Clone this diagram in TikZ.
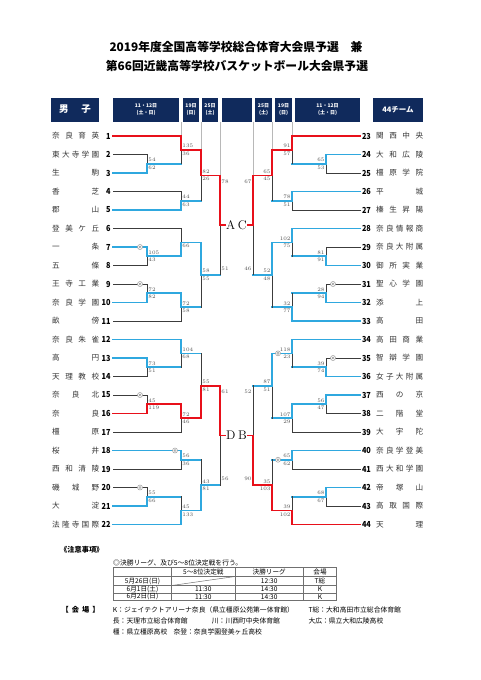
\documentclass[tikz,border=0pt]{standalone}
\usepackage{fontspec}
\newfontfamily\jp{Noto Sans CJK JP}
\usetikzlibrary{calc}
\definecolor{cR}{HTML}{E8101A}
\definecolor{cB}{HTML}{2FA8DF}
\definecolor{cG}{HTML}{3C3C3C}
\definecolor{cNavy}{HTML}{102A5C}
\definecolor{cHL}{HTML}{B8B8B8}
\definecolor{cSc}{HTML}{505050}
\definecolor{cNm}{HTML}{333333}
\definecolor{cMk}{HTML}{9A9A9A}
\definecolor{cTb}{HTML}{707070}
\newcommand\sprd[1]{\makebox[47pt][s]{\sprdA#1\relax}}
\def\sprdA#1{#1\sprdB}
\def\sprdB#1{\ifx\relax#1\else\hfill#1\expandafter\sprdB\fi}
\newcommand\sg[4]{\draw[#3] (#1) -- (#1 -| #2);\draw[#4] (#1 -| #2) -- (#2);}
\newcommand\scoreL[3]{\node[scL] (#1u) at ($(#1)+(1.2,-3.7)$) {#2};\node[scL] (#1l) at ($(#1)+(1.2,3.7)$) {#3};}
\newcommand\scoreR[3]{\node[scR] (#1u) at ($(#1)+(-1.2,-3.7)$) {#2};\node[scR] (#1l) at ($(#1)+(-1.2,3.7)$) {#3};}
\newcommand\dmk[2]{\node[dmark] (#1) at (#2) {};\node[dmarkin] (#1i) at (#2) {};}
\newcommand\teamL[2]{\pgfmathsetmacro\tyy{136+(#1-1)*18.5}\node[tname] (n#1) at (52,\tyy) {\sprd{#2}};\node[tnumL] (t#1) at (113,\tyy) {\scalebox{0.88}[1]{#1}};}
\newcommand\teamR[2]{\pgfmathsetmacro\tyy{136+(#1-23)*18.5}\node[tnumR] (t#1) at (360,\tyy) {\scalebox{0.88}[1]{#1}};\node[tname] (n#1) at (376,\tyy) {\sprd{#2}};}
\begin{document}
\begin{tikzpicture}[x=1pt,y=-1pt,
 segR/.style={draw=cR,line width=1.6pt,line cap=rect},
 segB/.style={draw=cB,line width=1.6pt,line cap=rect},
 segG/.style={draw=cG,line width=1pt,line cap=rect},
 hdrln/.style={draw=cHL,line width=1pt},
 hbox/.style={fill=cNavy,minimum height=24pt,inner sep=0pt,text=white,align=center},
 hsm/.style={font=\jp\bfseries\fontsize{5}{6.5}\selectfont},
 ttl/.style={font=\jp\bfseries\fontsize{11.8}{12}\selectfont,inner sep=0pt},
 tnumL/.style={anchor=east,inner xsep=0pt,outer xsep=2.5pt,font=\jp\bfseries\fontsize{8.3}{9}\selectfont},
 tnumR/.style={anchor=west,inner xsep=0pt,outer xsep=2pt,font=\jp\bfseries\fontsize{8.3}{9}\selectfont},
 tname/.style={anchor=west,inner sep=0pt,text=cNm,font=\jp\fontsize{7.6}{8}\selectfont},
 scL/.style={anchor=west,inner sep=0pt,text=cSc,font=\fontsize{5.3}{5.3}\selectfont},
 scR/.style={anchor=east,inner sep=0pt,text=cSc,font=\fontsize{5.3}{5.3}\selectfont},
 dmark/.style={circle,draw=cMk,fill=white,line width=0.5pt,minimum size=5pt,inner sep=0pt},
 dmarkin/.style={circle,draw=cMk,line width=0.5pt,minimum size=2.2pt,inner sep=0pt},
 letter/.style={font=\fontsize{12.5}{12.5}\selectfont,inner sep=0.5pt},
 note/.style={anchor=west,inner sep=0pt,font=\jp\fontsize{6.8}{7}\selectfont},
 cell/.style={inner sep=0pt,font=\jp\fontsize{6.6}{7}\selectfont},
 tbl/.style={draw=cTb,line width=0.5pt}]
\useasboundingbox (0,0) rectangle (481,680);
% titles
\node[ttl] (ti1) at (236,46.5) {2019年度全国高等学校総合体育大会県予選　兼};
\node[ttl] (ti2) at (237,66.5) {第66回近畿高等学校バスケットボール大会県予選};
% header boxes
\node[hbox,minimum width=48pt,font=\jp\bfseries\fontsize{9.5}{10}\selectfont] (h1) at (75,109.5) {男\hspace{13pt}子};
\node[hbox,hsm,minimum width=66pt] (h2) at (146,109.5) {11・12日\\(土・日)};
\node[hbox,hsm,minimum width=16pt] (h3) at (191,109.5) {19日\\(日)};
\node[hbox,hsm,minimum width=16pt] (h4) at (210,109.5) {25日\\(土)};
\node[hbox,minimum width=30pt] (h5) at (237,109.5) {};
\node[hbox,hsm,minimum width=17pt] (h6) at (263.5,109.5) {25日\\(土)};
\node[hbox,hsm,minimum width=17pt] (h7) at (283.5,109.5) {19日\\(日)};
\node[hbox,hsm,minimum width=65pt] (h8) at (327.5,109.5) {11・12日\\(土・日)};
\node[hbox,minimum width=50pt,font=\jp\bfseries\fontsize{7.5}{8}\selectfont] (h9) at (398,109.5) {44チーム};
% teams
\teamL{1}{奈良育英}
\teamL{2}{東大寺学園}
\teamL{3}{生駒}
\teamL{4}{香芝}
\teamL{5}{郡山}
\teamL{6}{登美ケ丘}
\teamL{7}{一条}
\teamL{8}{五條}
\teamL{9}{王寺工業}
\teamL{10}{奈良学園}
\teamL{11}{畝傍}
\teamL{12}{奈良朱雀}
\teamL{13}{高円}
\teamL{14}{天理教校}
\teamL{15}{奈良北}
\teamL{16}{奈良}
\teamL{17}{橿原}
\teamL{18}{桜井}
\teamL{19}{西和清陵}
\teamL{20}{磯城野}
\teamL{21}{大淀}
\teamL{22}{法隆寺国際}
\teamR{23}{関西中央}
\teamR{24}{大和広陵}
\teamR{25}{橿原学院}
\teamR{26}{平城}
\teamR{27}{榛生昇陽}
\teamR{28}{奈良情報商}
\teamR{29}{奈良大附属}
\teamR{30}{御所実業}
\teamR{31}{聖心学園}
\teamR{32}{添上}
\teamR{33}{高田}
\teamR{34}{高田商業}
\teamR{35}{智辯学園}
\teamR{36}{女子大附属}
\teamR{37}{西の京}
\teamR{38}{二階堂}
\teamR{39}{大宇陀}
\teamR{40}{奈良学登美}
\teamR{41}{西大和学園}
\teamR{42}{帝塚山}
\teamR{43}{高取国際}
\teamR{44}{天理}
% match points
\coordinate (ma) at (147,163.75);
\coordinate (mb) at (181,149.875);
\coordinate (mc) at (181,200.75);
\coordinate (md) at (201,175.3125);
\coordinate (me) at (147,256.25);
\coordinate (mf) at (181,242.375);
\coordinate (mg) at (147,293.25);
\coordinate (mh) at (181,307.125);
\coordinate (mi) at (201,274.75);
\coordinate (fA) at (220,225.03);
\coordinate (mj) at (147,367.25);
\coordinate (mk) at (181,353.375);
\coordinate (ml) at (147,404.25);
\coordinate (mm) at (181,418.125);
\coordinate (mn) at (201,385.75);
\coordinate (mo) at (181,459.75);
\coordinate (mp) at (147,496.75);
\coordinate (mq) at (181,510.625);
\coordinate (mr) at (201,485.1875);
\coordinate (fD) at (220,435.47);
\coordinate (ms) at (326,163.75);
\coordinate (mt) at (292,149.875);
\coordinate (mu) at (292,200.75);
\coordinate (mv) at (272,175.3125);
\coordinate (mw) at (326,256.25);
\coordinate (mx) at (292,242.375);
\coordinate (my) at (326,293.25);
\coordinate (mz) at (292,307.125);
\coordinate (maa) at (272,274.75);
\coordinate (fC) at (253,225.03);
\coordinate (mbb) at (326,367.25);
\coordinate (mcc) at (292,353.375);
\coordinate (mdd) at (326,404.25);
\coordinate (mee) at (292,418.125);
\coordinate (mff) at (272,385.75);
\coordinate (mgg) at (292,459.75);
\coordinate (mhh) at (326,496.75);
\coordinate (mii) at (292,510.625);
\coordinate (mjj) at (272,485.1875);
\coordinate (fB) at (253,435.47);
% header guide lines
\draw[hdrln] (mb |- h3.south) -- (t1.east -| mb);
\draw[hdrln] (md |- h4.south) -- (mb -| md);
\draw[hdrln] (fA |- h5.south) -- (md -| fA);
\draw[hdrln] (mt |- h7.south) -- (t23.west -| mt);
\draw[hdrln] (mv |- h6.south) -- (mt -| mv);
\draw[hdrln] (fC |- h5.south) -- (mv -| fC);
% left top
\sg{t2.east}{ma}{segG}{segG}\sg{t3.east}{ma}{segB}{segB}
\sg{ma}{mb}{segB}{segG}\sg{t1.east}{mb}{segR}{segR}
\sg{t4.east}{mc}{segG}{segG}\sg{t5.east}{mc}{segB}{segB}
\sg{mc}{md}{segB}{segG}\sg{mb}{md}{segR}{segR}
\sg{t8.east}{me}{segG}{segG}\sg{t7.east}{me}{segB}{segB}
\sg{t6.east}{mf}{segG}{segG}\sg{me}{mf}{segB}{segB}
\sg{t9.east}{mg}{segG}{segG}\sg{t10.east}{mg}{segB}{segB}
\sg{t11.east}{mh}{segG}{segG}\sg{mg}{mh}{segB}{segB}
\sg{mh}{mi}{segB}{segG}\sg{mf}{mi}{segB}{segB}
\sg{mi}{fA}{segB}{segG}\sg{md}{fA}{segR}{segR}
% left bottom
\sg{t14.east}{mj}{segG}{segG}\sg{t13.east}{mj}{segB}{segB}
\sg{mj}{mk}{segB}{segG}\sg{t12.east}{mk}{segB}{segB}
\sg{t15.east}{ml}{segG}{segG}\sg{t16.east}{ml}{segR}{segR}
\sg{t17.east}{mm}{segG}{segG}\sg{ml}{mm}{segR}{segR}
\sg{mk}{mn}{segB}{segG}\sg{mm}{mn}{segR}{segR}
\sg{t19.east}{mo}{segG}{segG}\sg{t18.east}{mo}{segB}{segB}
\sg{t20.east}{mp}{segG}{segG}\sg{t21.east}{mp}{segB}{segB}
\sg{mp}{mq}{segB}{segG}\sg{t22.east}{mq}{segB}{segB}
\sg{mo}{mr}{segB}{segG}\sg{mq}{mr}{segB}{segB}
\sg{mr}{fD}{segB}{segG}\sg{mn}{fD}{segR}{segR}
% right top
\sg{t25.west}{ms}{segG}{segG}\sg{t24.west}{ms}{segB}{segB}
\sg{ms}{mt}{segB}{segG}\sg{t23.west}{mt}{segR}{segR}
\sg{t27.west}{mu}{segG}{segG}\sg{t26.west}{mu}{segB}{segB}
\sg{mu}{mv}{segB}{segG}\sg{mt}{mv}{segR}{segR}
\sg{t29.west}{mw}{segG}{segG}\sg{t30.west}{mw}{segB}{segB}
\sg{mw}{mx}{segB}{segG}\sg{t28.west}{mx}{segB}{segB}
\sg{t31.west}{my}{segG}{segG}\sg{t32.west}{my}{segB}{segB}
\sg{my}{mz}{segB}{segG}\sg{t33.west}{mz}{segB}{segB}
\sg{mz}{maa}{segB}{segG}\sg{mx}{maa}{segB}{segB}
\sg{maa}{fC}{segB}{segG}\sg{mv}{fC}{segR}{segR}
% right bottom
\sg{t35.west}{mbb}{segG}{segG}\sg{t36.west}{mbb}{segB}{segB}
\sg{mbb}{mcc}{segB}{segG}\sg{t34.west}{mcc}{segB}{segB}
\sg{t38.west}{mdd}{segG}{segG}\sg{t37.west}{mdd}{segB}{segB}
\sg{t39.west}{mee}{segG}{segG}\sg{mdd}{mee}{segB}{segB}
\sg{mee}{mff}{segB}{segG}\sg{mcc}{mff}{segB}{segB}
\sg{t41.west}{mgg}{segG}{segG}\sg{t40.west}{mgg}{segB}{segB}
\sg{t43.west}{mhh}{segG}{segG}\sg{t42.west}{mhh}{segB}{segB}
\sg{mhh}{mii}{segB}{segG}\sg{t44.west}{mii}{segR}{segR}
\sg{mgg}{mjj}{segB}{segG}\sg{mii}{mjj}{segR}{segR}
\sg{mff}{fB}{segB}{segG}\sg{mjj}{fB}{segR}{segR}
% league letters
\node[letter,anchor=west] (nA) at ($(fA)+(5.5,0)$) {A};
\node[letter,anchor=east] (nC) at ($(fC)+(-5.5,0)$) {C};
\node[letter,anchor=west] (nD) at ($(fD)+(5.5,0)$) {D};
\node[letter,anchor=east] (nB) at ($(fB)+(-5.5,0)$) {B};
\draw[segR] (fA) -- (nA.west);
\draw[segR] (fC) -- (nC.east);
\draw[segR] (fD) -- (nD.west);
\draw[segR] (fB) -- (nB.east);
% double-circle marks
\dmk{d1}{$(t7.east -| me)+(-7,0)$}
\dmk{d2}{$(t9.east -| mg)+(-7,0)$}
\dmk{d3}{$(t15.east -| ml)+(-7,0)$}
\dmk{d4}{$(t18.east -| mo)+(-6,0)$}
\dmk{d5}{$(t20.east -| mp)+(-7,0)$}
\dmk{d6}{$(t31.west -| my)+(7,0)$}
\dmk{d7}{$(t35.west -| mbb)+(7,0)$}
\dmk{d8}{$(mcc -| mff)+(6,0)$}
\dmk{d9}{$(mgg -| mjj)+(6,0)$}
% scores
\scoreL{ma}{54}{62}\scoreL{mb}{135}{36}\scoreL{mc}{44}{63}\scoreL{md}{82}{26}
\scoreL{me}{105}{43}\scoreL{mf}{}{66}\scoreL{mg}{72}{82}\scoreL{mh}{72}{58}\scoreL{mi}{58}{55}
\scoreL{mj}{73}{51}\scoreL{mk}{104}{68}\scoreL{ml}{45}{119}\scoreL{mm}{72}{46}\scoreL{mn}{55}{81}
\scoreL{mo}{56}{36}\scoreL{mp}{55}{66}\scoreL{mq}{45}{133}\scoreL{mr}{43}{81}
\scoreR{ms}{65}{53}\scoreR{mt}{91}{57}\scoreR{mu}{78}{51}\scoreR{mv}{65}{45}
\scoreR{mw}{81}{91}\scoreR{mx}{102}{75}\scoreR{my}{28}{94}\scoreR{mz}{32}{77}\scoreR{maa}{52}{48}
\scoreR{mbb}{39}{74}\scoreR{mcc}{118}{23}\scoreR{mdd}{56}{47}\scoreR{mee}{107}{29}\scoreR{mff}{87}{51}
\scoreR{mgg}{65}{62}\scoreR{mhh}{68}{67}\scoreR{mii}{39}{102}\scoreR{mjj}{35}{103}
\node[scL] (sA1) at ($(md -| fA)+(1.2,6)$) {78};
\node[scL] (sA2) at ($(mi -| fA)+(1.2,-6)$) {51};
\node[scL] (sD1) at ($(mn -| fD)+(1.2,6)$) {61};
\node[scL] (sD2) at ($(mr -| fD)+(1.2,-6)$) {56};
\node[scR] (sC1) at ($(mv -| fC)+(-1.2,6)$) {67};
\node[scR] (sC2) at ($(maa -| fC)+(-1.2,-6)$) {46};
\node[scR] (sB1) at ($(mff -| fB)+(-1.2,6)$) {52};
\node[scR] (sB2) at ($(mjj -| fB)+(-1.2,-6)$) {90};
% notes
\node[note,font=\jp\bfseries\fontsize{7.2}{7.2}\selectfont] (nt) at (60,550) {《注意事項》};
\node[note] (nt1) at (113,563.3) {◎決勝リーグ、及び5～8位決定戦を行う。};
\draw[tbl] (113.3,567) rectangle (336.7,600.5);
\foreach \yy in {576.5,585.5,593} \draw[tbl] (113.3,\yy) -- (336.7,\yy);
\foreach \xx in {171.7,235,303.3} \draw[tbl] (\xx,567) -- (\xx,600.5);
\draw[tbl] (171.7,585.5) -- (235,576.5);
\node[cell] (c12) at (203.3,571.8) {5～8位決定戦};
\node[cell] (c13) at (269.2,571.8) {決勝リーグ};
\node[cell] (c14) at (320,571.8) {会場};
\node[cell] (c21) at (142.5,581) {5月26日(日)};
\node[cell] (c23) at (269.2,581) {12:30};
\node[cell] (c24) at (320,581) {T総};
\node[cell] (c31) at (142.5,589.3) {6月1日(土)};
\node[cell] (c32) at (203.3,589.3) {11:30};
\node[cell] (c33) at (269.2,589.3) {14:30};
\node[cell] (c34) at (320,589.3) {K};
\node[cell] (c41) at (142.5,596.8) {6月2日(日)};
\node[cell] (c42) at (203.3,596.8) {11:30};
\node[cell] (c43) at (269.2,596.8) {14:30};
\node[cell] (c44) at (320,596.8) {K};
% venues
\node[note,font=\jp\bfseries\fontsize{7.2}{7.2}\selectfont] (v0) at (61.5,610) {【\hspace{3pt}会\hspace{3pt}場\hspace{3pt}】};
\node[note] (v1) at (112.7,610) {K：ジェイテクトアリーナ奈良（県立橿原公苑第一体育館）};
\node[note] (v2) at (308.3,610) {T総：大和高田市立総合体育館};
\node[note] (v3) at (112.7,621) {長：天理市立総合体育館};
\node[note] (v4) at (211.7,621) {川：川西町中央体育館};
\node[note] (v5) at (308.3,621) {大広：県立大和広陵高校};
\node[note] (v6) at (112.7,631.7) {橿：県立橿原高校};
\node[note] (v7) at (173.3,631.7) {奈登：奈良学園登美ヶ丘高校};
\end{tikzpicture}
\end{document}
